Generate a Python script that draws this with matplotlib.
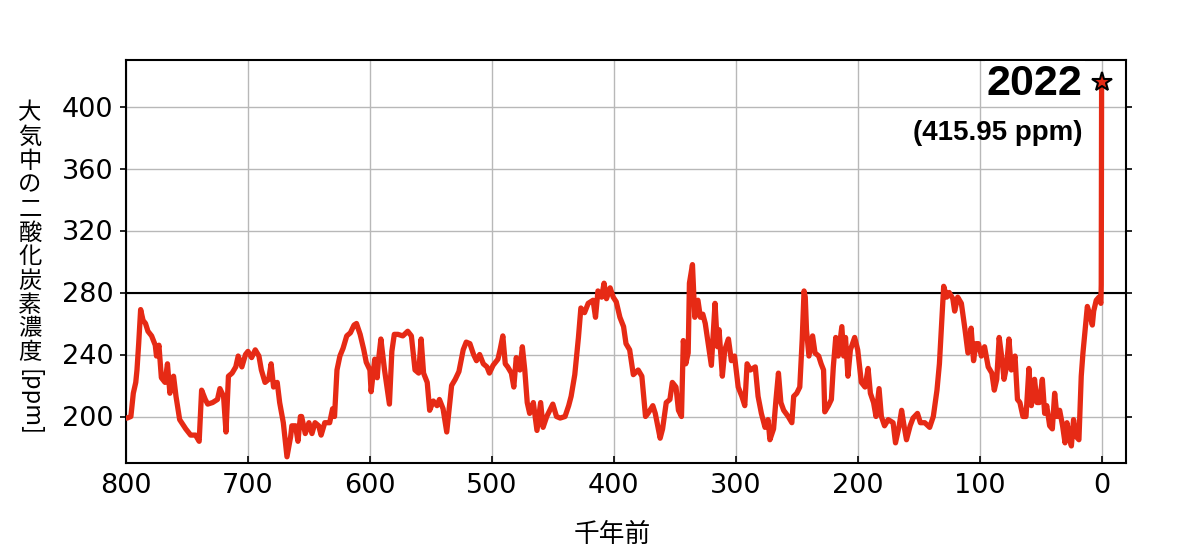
import matplotlib
matplotlib.use('Agg')
import matplotlib.pyplot as plt

# ---- data (thousand years before present, ppm) ----
ages = [800, 799, 796, 794, 792, 791, 789.6, 788, 786, 784, 782, 779, 776, 775, 773, 771, 768, 766, 764, 761, 759,
        756, 751, 747, 743, 740, 738, 735, 733, 729, 725, 723, 720, 718, 716, 713, 710, 708, 705, 702, 700, 697,
        694, 691, 689, 686, 683, 681, 679, 676, 674, 671, 668, 665, 664, 661, 659, 657,
        656, 653, 650, 647.5, 645, 642, 640, 637, 633, 630.6, 629, 627, 624.6, 622, 619, 616, 613, 611, 608, 605,
        603, 600, 599, 596, 594, 593, 591, 588, 584, 582, 580, 577, 573, 569, 566, 563, 560, 558, 556, 553, 551,
        548, 545, 543, 540, 537, 533, 530, 527,
        523.5, 521, 518, 515, 512.6, 510, 507, 504, 502, 499, 495, 493, 491, 489, 487, 484, 482, 480, 477, 475,
        473, 471, 469, 466, 463, 460, 458, 455, 450, 447, 444, 440, 437, 435, 432, 429, 427, 424, 421, 417, 415,
        413, 410, 408, 406, 403, 400.5, 398, 395, 392, 390, 387, 384,
        380, 377, 374, 372, 368, 366, 362, 360, 357, 354, 352, 349, 347, 344.5, 343, 341, 339, 338, 335.5, 333.6,
        331, 329, 327, 325, 323, 320, 317, 315, 313.7, 311, 309, 306, 303.6, 301, 298, 295, 292.6, 290.7, 288,
        284, 281.7, 279, 276, 273.5, 272, 269, 267, 265, 263, 260.7, 257, 254, 252.5, 250, 247.5, 245.5, 244,
        243, 242, 240, 237, 235, 232, 230, 228, 227, 224, 221.6, 220, 218, 216, 213, 211.5, 210, 208, 206, 202.5,
        200, 197, 194, 191.5, 189.6, 187, 185, 182.5, 180.6, 178, 175, 171, 169, 166, 164, 162, 160, 157, 154.6,
        151, 148.6, 145, 141, 138, 135, 133, 131, 129.5, 127, 125, 122, 120.5, 118, 115, 112, 109.6, 107, 105,
        103, 101, 98.6, 96, 93, 90, 88, 86, 84, 82, 80, 78, 76, 74, 71, 69, 67, 64.5, 62, 59.6, 57.6, 55, 53, 51,
        48.6, 46.7, 45, 42.6, 40.4, 38.5, 36.6, 34.4, 32, 30, 28.4, 26, 24.8, 23, 20.8, 18.6, 16.7, 15.3, 13,
        11.7, 9.8, 7.6, 6.5, 4.4, 2.2, 0.6, 0.3, 0]
co2 = [199, 199, 200, 215, 222, 230, 247, 269, 262, 260, 255, 252, 246, 239, 246, 225, 222, 234, 215, 226, 213,
       198, 192, 188, 188, 184, 217, 211, 208, 209, 211, 218, 213, 190, 226, 228, 232, 239, 232, 240, 242, 238,
       243, 239, 230, 222, 224, 234, 219, 222, 209, 196, 174, 187, 194, 194, 184, 200,
       200, 189, 196, 189, 196, 194, 188, 196, 196, 205, 200, 230, 239, 244, 252, 254, 259, 260, 253, 243,
       235, 230, 216, 237, 225, 236, 250, 230, 208, 242, 253, 253, 252, 255, 252, 230, 228, 250, 228, 222, 204,
       210, 207, 211, 205, 190, 220, 224, 229,
       243, 248, 247, 240, 236, 240, 234, 232, 228, 233, 237, 244, 252, 234, 232, 228, 219, 238, 230, 245,
       230, 209, 202, 209, 191, 209, 193, 200, 208, 200, 199, 200, 207, 213, 227, 251, 270, 267, 273, 275, 264,
       281, 277, 286, 276, 283, 277, 274, 264, 258, 247, 243, 227,
       230, 226, 200, 202, 207, 202, 186, 192, 209, 211, 222, 219, 204, 200, 249, 234, 241, 286, 298, 264,
       275, 264, 266, 260, 249, 233, 273, 245, 256, 226, 243, 250, 236, 239, 219, 213, 207, 234, 230,
       232, 213, 202, 193, 198, 185, 192, 211, 228, 209, 204, 200, 196, 213, 215, 219, 250, 281,
       277, 256, 239, 252, 241, 239, 234, 230, 203, 207, 211, 232, 251, 239, 258, 239, 251, 226, 243, 251,
       243, 222, 219, 231, 215, 209, 200, 218, 200, 194, 198, 196, 183, 194, 204, 194, 185, 194, 199,
       202, 196, 196, 193, 200, 217, 234, 262, 284, 277, 280, 276, 268, 277, 273, 256, 241, 257, 236,
       247, 247, 239, 245, 232, 228, 217, 224, 251, 239, 224, 232, 250, 230, 239, 211, 209, 200, 200, 231, 207, 224, 209, 209,
       224, 202, 207, 194, 192, 215, 200, 204, 194, 183, 196, 185, 181, 198, 187, 185, 226, 241, 260,
       271, 266, 259, 268, 275, 277, 273, 285, 415.95]

x_ticks = [800, 700, 600, 500, 400, 300, 200, 100, 0]
y_ticks = [200, 240, 280, 320, 360, 400]
pre_industrial = 280
latest_year = "2022"
latest_value = 415.95
y_label_chars = list("大気中の二酸化炭素濃度")
y_label_unit = "[ppm]"
x_label = "千年前"

RED = '#e62a15'
CJK = ['Noto Sans CJK JP', 'DejaVu Sans']

fig = plt.figure(figsize=(12, 5.6), dpi=100)
ax = fig.add_axes([126 / 1200, 97 / 560, 1000 / 1200, 403 / 560])

ax.plot(ages, co2, color=RED, lw=3.8, solid_joinstyle='round', solid_capstyle='round', zorder=3)
ax.axhline(pre_industrial, color='black', lw=1.5, zorder=2)
ax.plot([ages[-1]], [co2[-1]], marker='*', ms=15, mfc=RED, mec='black', mew=1.5, zorder=5, ls='none')

ax.set_xlim(800, -20)
ax.set_ylim(170, 430)
ax.set_xticks(x_ticks)
ax.set_yticks(y_ticks)
ax.grid(True, color='#b8b8b8', lw=1.0, zorder=0)
ax.set_axisbelow(True)
for s in ax.spines.values():
    s.set_linewidth(1.5)
    s.set_color('black')
ax.tick_params(axis='y', direction='out', length=4, width=1.2, labelsize=19.5, right=True, left=True,
               labelright=False, pad=5)
ax.tick_params(axis='x', direction='in', length=5, width=1.2, labelsize=19.5, pad=7)

ax.text(15.6, 414.8, latest_year, ha='right', va='center', fontsize=31, fontweight='bold',
        family='Liberation Sans', bbox=dict(fc='white', ec='none', pad=1.5), zorder=6)
ax.text(15.6, 382.6, f"({latest_value} ppm)", ha='right', va='center', fontsize=20, fontweight='bold',
        family='Liberation Sans', zorder=6)

# vertical y label
for i, ch in enumerate(y_label_chars):
    fig.text(30 / 1200, 1 - (113 + 24 * i) / 560, ch, ha='center', va='center', fontsize=16.8, family=CJK)
fig.text(30 / 1200, 1 - 403 / 560, y_label_unit, ha='center', va='center', fontsize=17, family=CJK,
         rotation=270)

fig.text(612 / 1200, 1 - 535 / 560, x_label, ha='center', va='center', fontsize=18.5, family=CJK)

fig.savefig('out.png', dpi=100)
